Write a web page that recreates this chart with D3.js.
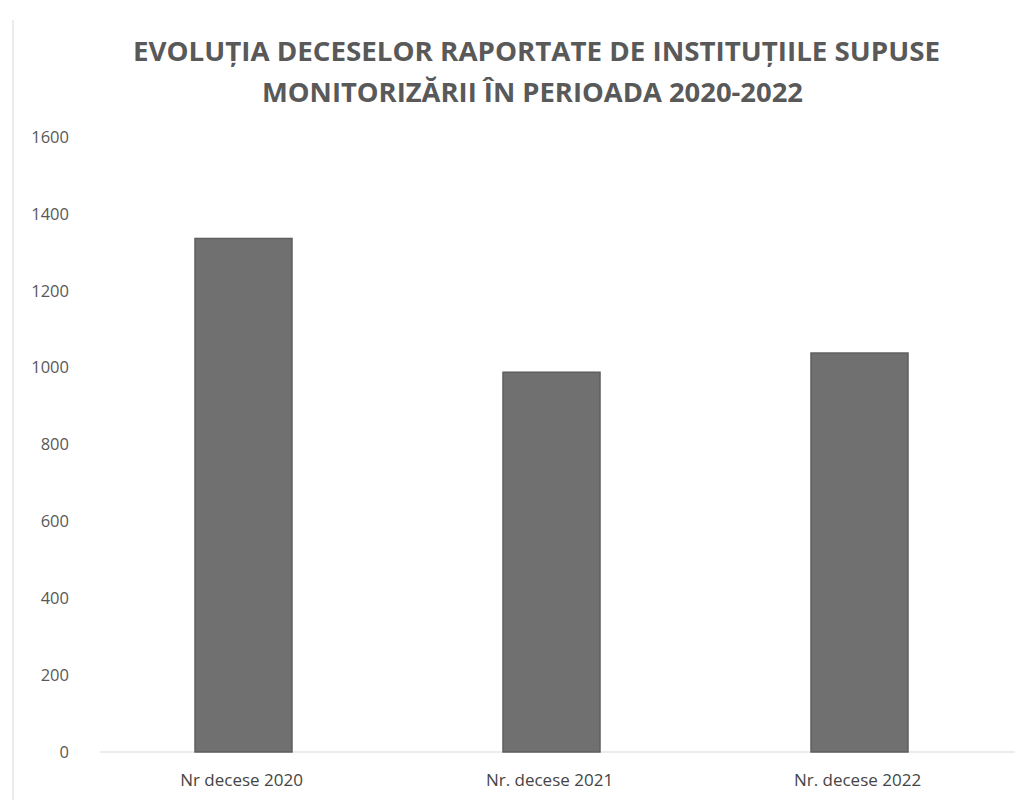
<!DOCTYPE html>
<html><head><meta charset="utf-8">
<script src="https://cdn.jsdelivr.net/npm/d3@7"></script>
<style>body{margin:0;background:#fff}svg{display:block}</style>
</head><body>
<script>
const categories = ["Nr decese 2020", "Nr. decese 2021", "Nr. decese 2022"];
const values = [1336, 988, 1038];
const yTicks = [0, 200, 400, 600, 800, 1000, 1200, 1400, 1600];
const titleLines = ["EVOLUȚIA DECESELOR RAPORTATE DE INSTITUȚIILE SUPUSE", "MONITORIZĂRII ÎN PERIOADA 2020-2022"];

const W = 1025, H = 806;
const svg = d3.select("body").append("svg").attr("width", W).attr("height", H);
const font = "'Open Sans', 'Liberation Sans', sans-serif";

// faint scan border
svg.append("line").attr("x1", 13).attr("x2", 13).attr("y1", 20).attr("y2", 800)
  .attr("stroke", "#e6e6e6").attr("stroke-width", 1.5);

const x = d3.scaleBand().domain(categories).range([89.5, 1013.5]).paddingInner(0.685).paddingOuter(0.3425);
const y = d3.scaleLinear().domain([0, 1600]).range([752, 137]);

// title
const titleWidths = [807, 541];
svg.selectAll("text.title").data(titleLines).enter().append("text")
  .attr("class", "title")
  .attr("x", (d, i) => i === 0 ? 133 + 807 / 2 : 262 + 541 / 2)
  .attr("y", (d, i) => 61 + i * 41)
  .attr("text-anchor", "middle")
  .attr("font-family", font).attr("font-weight", 700).attr("font-size", 27)
  .attr("fill", "#595959")
  .attr("textLength", (d, i) => titleWidths[i])
  .attr("lengthAdjust", "spacingAndGlyphs")
  .text(d => d);

// y axis (labels only)
const yAxis = d3.axisLeft(y).tickValues(yTicks).tickSize(0).tickPadding(0).tickFormat(d3.format("d"));
const gy = svg.append("g").attr("transform", "translate(69,0)").call(yAxis);
gy.select(".domain").remove();
gy.selectAll("text").attr("font-family", font).attr("font-size", 16.5).attr("fill", "#595959");

// baseline
svg.append("line").attr("x1", 100).attr("x2", 1015).attr("y1", y(0)).attr("y2", y(0))
  .attr("stroke", "#d9d9d9").attr("stroke-width", 1);

// bars
svg.selectAll("rect.bar").data(values).enter().append("rect")
  .attr("class", "bar")
  .attr("x", (d, i) => x(categories[i]))
  .attr("width", x.bandwidth())
  .attr("y", d => y(d))
  .attr("height", d => y(0) - y(d))
  .attr("fill", "#707070").attr("stroke", "#5f5f5f").attr("stroke-width", 1.5);

// x axis labels
const xAxis = d3.axisBottom(x).tickSize(0).tickPadding(0);
const gx = svg.append("g").attr("transform", "translate(-2,774)").call(xAxis);
gx.select(".domain").remove();
gx.selectAll("text").attr("font-family", font).attr("font-size", 17).attr("fill", "#454545");
</script>
</body></html>
